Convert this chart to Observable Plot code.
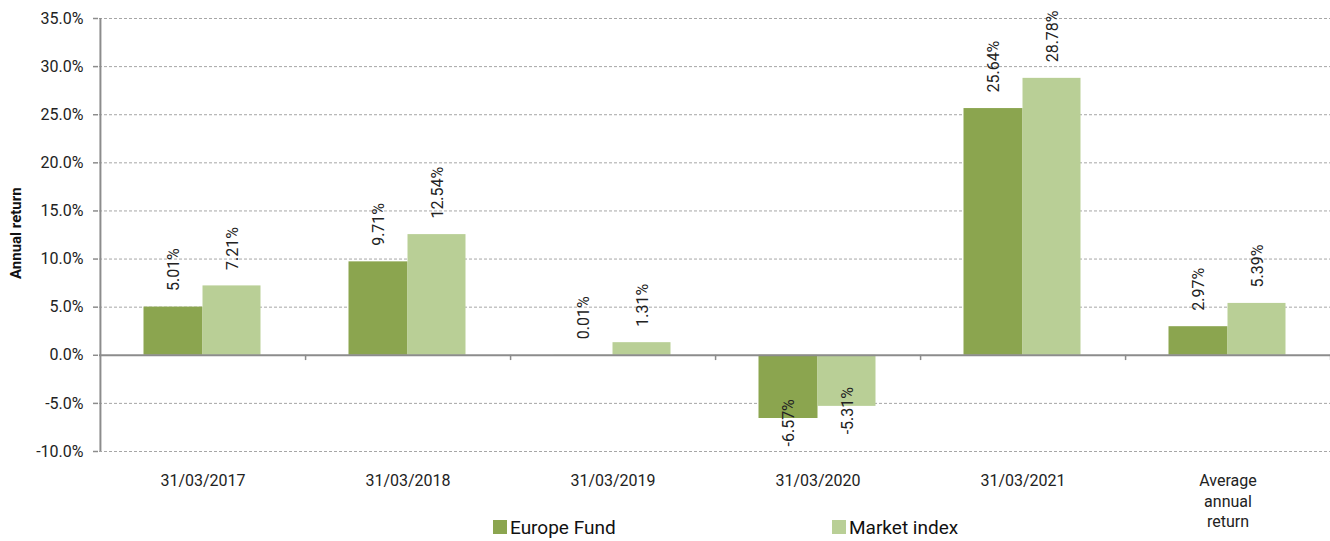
<!DOCTYPE html>
<html>
<head>
<meta charset="utf-8">
<script src="https://cdn.jsdelivr.net/npm/d3@7"></script>
<script src="https://cdn.jsdelivr.net/npm/@observablehq/plot@0.6"></script>
<style>
  html, body { margin: 0; padding: 0; background: #fff; }
  #wrap { position: relative; width: 1330px; height: 541px; font-family: Roboto, "Liberation Sans", sans-serif; }
  #legend { position: absolute; top: 515px; left: 0; width: 1330px; height: 24px; font-size: 19px; color: #111; }
  .item { position: absolute; top: 0; display: flex; align-items: center; height: 24px; }
  .sw { width: 14px; height: 14px; margin-right: 3px; }
</style>
</head>
<body>
<div id="wrap"><div id="legend"></div></div>
<script>
const categories = ["31/03/2017", "31/03/2018", "31/03/2019", "31/03/2020", "31/03/2021", "Average annual return"];
const categoryLabels = ["31/03/2017", "31/03/2018", "31/03/2019", "31/03/2020", "31/03/2021", "Average\nannual\nreturn"];
const seriesNames = ["Europe Fund", "Market index"];
const fundReturns = [5.01, 9.71, 0.01, -6.57, 25.64, 2.97];
const indexReturns = [7.21, 12.54, 1.31, -5.31, 28.78, 5.39];
const yTicks = [-10, -5, 0, 5, 10, 15, 20, 25, 30, 35];
const colors = ["#8ba54f", "#b9cf96"];

const W = 1330, H = 541, ML = 99, MR = 0, MT = 18, MB = 90;
const step = (W - ML - MR) / categories.length;

const fund = categories.map((c, i) => ({category: c, value: fundReturns[i]}));
const idx = categories.map((c, i) => ({category: c, value: indexReturns[i]}));
const labelMap = new Map(categories.map((c, i) => [c, categoryLabels[i]]));
const fmt = v => v.toFixed(2) + "%";

function labels(data, dx) {
  return [
    Plot.text(data.filter(d => d.value >= 0), {
      x: "category", y: "value", text: d => fmt(d.value), rotate: -90,
      textAnchor: "start", lineAnchor: "middle", dx, dy: -16,
      fontSize: 16, fill: "#222", fontFamily: "Roboto"
    }),
    Plot.text(data.filter(d => d.value < 0), {
      x: "category", y: "value", text: d => fmt(d.value), rotate: -90,
      textAnchor: "start", lineAnchor: "middle", dx, dy: 28,
      fontSize: 16, fill: "#222", fontFamily: "Roboto"
    })
  ];
}

const chart = Plot.plot({
  width: W, height: H,
  marginLeft: ML, marginRight: MR, marginTop: MT, marginBottom: MB,
  style: {fontFamily: "Roboto", background: "transparent", overflow: "visible"},
  x: {domain: categories, padding: 0, axis: null, label: null},
  y: {domain: [-10, 35], axis: null, label: null},
  marks: [
    Plot.gridY(yTicks.filter(t => t !== 0), {stroke: "#a6a6a6", strokeOpacity: 1, strokeWidth: 1, strokeDasharray: "3,2"}),
    Plot.barY(fund, {x: "category", y: "value", fill: colors[0], insetLeft: 43.5, insetRight: 102.5}),
    Plot.barY(idx, {x: "category", y: "value", fill: colors[1], insetLeft: 102.5, insetRight: 44.5}),
    Plot.ruleY([0], {stroke: "#8c8c8c", strokeWidth: 2}),
    Plot.ruleX([categories[0]], {dx: -step / 2, stroke: "#8c8c8c", strokeWidth: 2}),
    Plot.ruleX(categories, {y1: 0, y2: -0.55, dx: step / 2, stroke: "#8c8c8c", strokeWidth: 1.5}),
    Plot.axisY({ticks: yTicks, tickFormat: d => d.toFixed(1) + "%", tickSize: 5, tickPadding: 10,
      fontSize: 16, stroke: "#8c8c8c", strokeWidth: 1.5, fill: "#222", dx: -1, label: null}),
    Plot.axisX({tickSize: 0, tickPadding: 20, tickFormat: d => labelMap.get(d), fontSize: 16,
      lineHeight: 1.28, fill: "#222", label: null}),
    Plot.text(["Annual return"], {frameAnchor: "left", text: d => d, rotate: -90, dx: -83, dy: 44,
      fontWeight: "bold", fontSize: 15, fill: "#111", lineAnchor: "middle"}),
    ...labels(fund, -29),
    ...labels(idx, 30)
  ]
});

const wrap = document.getElementById("wrap");
wrap.insertBefore(chart, wrap.firstChild);

const legend = document.getElementById("legend");
const legendX = [493, 832];
seriesNames.forEach((name, i) => {
  const item = document.createElement("div");
  item.className = "item";
  item.style.left = legendX[i] + "px";
  const sw = document.createElement("div");
  sw.className = "sw";
  sw.style.background = colors[i];
  const t = document.createElement("span");
  t.textContent = name;
  item.appendChild(sw);
  item.appendChild(t);
  legend.appendChild(item);
});
</script>
</body>
</html>
